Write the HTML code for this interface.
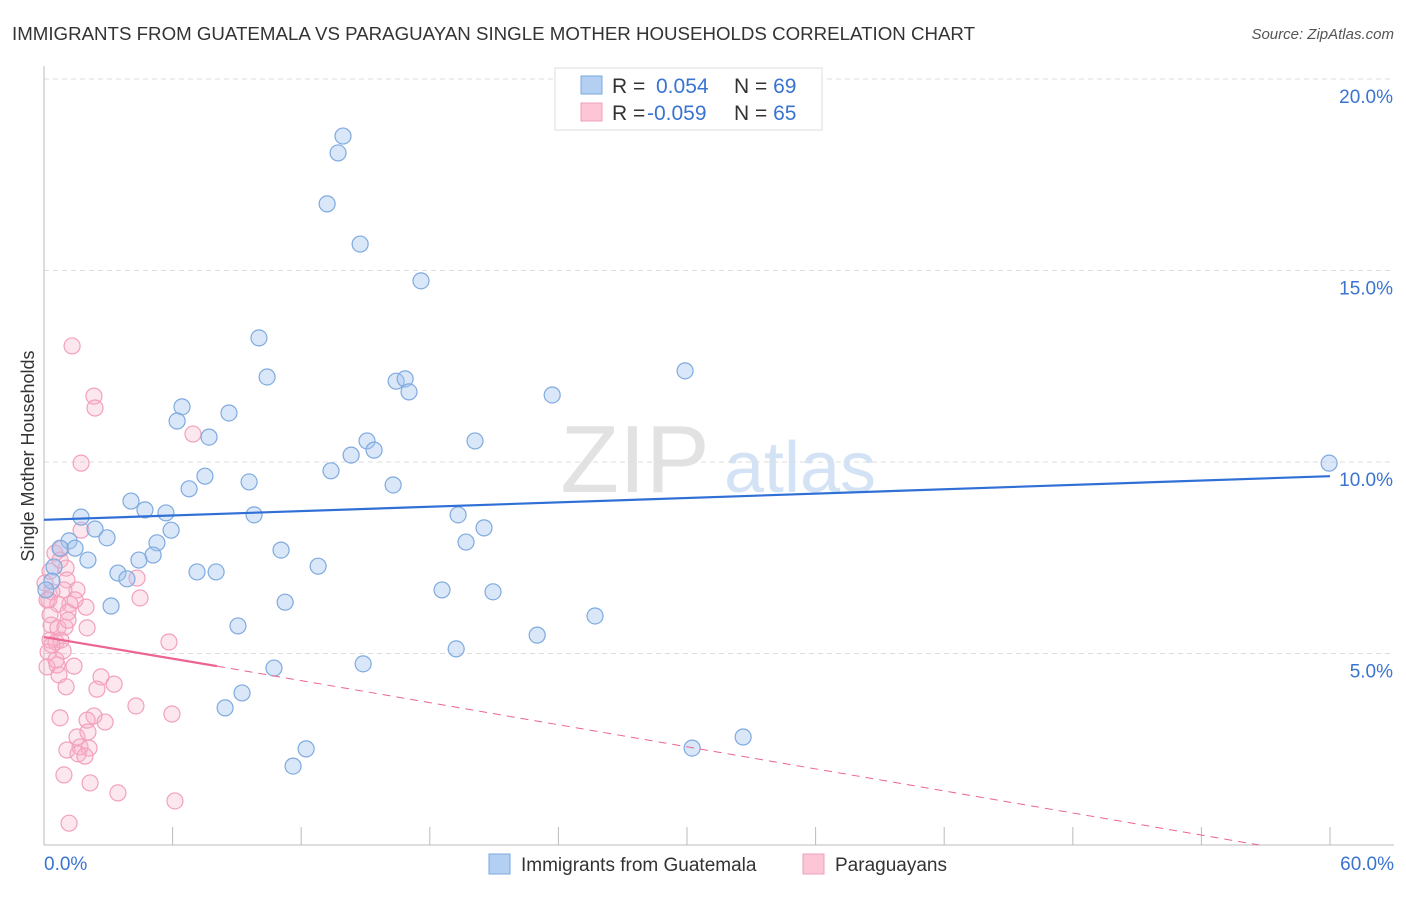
<!DOCTYPE html>
<html><head><meta charset="utf-8"><style>
body{margin:0;background:#fff;font-family:"Liberation Sans",sans-serif;}
svg text{font-family:"Liberation Sans",sans-serif;}
</style></head><body>
<svg id="chart" width="1406" height="892" viewBox="0 0 1406 892">
<text x="12" y="40" font-size="18" fill="#333" textLength="963" lengthAdjust="spacingAndGlyphs">IMMIGRANTS FROM GUATEMALA VS PARAGUAYAN SINGLE MOTHER HOUSEHOLDS CORRELATION CHART</text>
<text x="1394" y="39" font-size="15" fill="#555" font-style="italic" text-anchor="end">Source: ZipAtlas.com</text>
<text x="635" y="492" font-size="96" fill="#e2e2e2" font-family="Liberation Serif" text-anchor="middle">ZIP</text>
<text x="800" y="492" font-size="72" fill="#d3e3f5" text-anchor="middle">atlas</text>
<g id="grid"></g>
<g id="axes"></g>
<g id="marks"></g>
<text transform="translate(34,456) rotate(-90)" font-size="18" fill="#333" text-anchor="middle">Single Mother Households</text>
<g>
<rect x="555" y="68" width="267" height="62" fill="#fff" stroke="#ddd"/>
<rect x="581" y="76" width="21" height="18" fill="#b3cff2" stroke="#7aaae0"/>
<rect x="581" y="103" width="21" height="18" fill="#fcc6d6" stroke="#f0a0b8"/>
<text x="612" y="93" font-size="21" fill="#333">R = <tspan x="656" fill="#3a74d0">0.054</tspan><tspan x="734" fill="#333">N = </tspan><tspan fill="#3a74d0">69</tspan></text>
<text x="612" y="120" font-size="21" fill="#333">R = <tspan x="647" fill="#3a74d0">-0.059</tspan><tspan x="734" fill="#333">N = </tspan><tspan fill="#3a74d0">65</tspan></text>
</g>
<g>
<rect x="489" y="854" width="21" height="20" fill="#b3cff2" stroke="#7aaae0"/>
<text x="521" y="871" font-size="19" fill="#333">Immigrants from Guatemala</text>
<rect x="803" y="854" width="21" height="20" fill="#fcc6d6" stroke="#f0a0b8"/>
<text x="835" y="871" font-size="19" fill="#333">Paraguayans</text>
</g>
</svg>
<script>
const xTicks=[0,6,12,18,24,30,36,42,48,54,60];
const yTicks=[5,10,15,20];
const yTickLabels=["5.0%","10.0%","15.0%","20.0%"];
const xTickLabels=["0.0%","60.0%"];
const blueX=[13.95,13.72,13.21,14.75,17.59,10.03,10.41,16.43,16.85,17.03,23.71,29.91,6.44,8.63,6.21,7.70,15.07,20.11,15.40,14.33,13.39,7.51,9.57,6.77,16.29,59.96,4.06,4.71,5.69,9.80,19.32,1.73,2.38,5.93,20.53,2.94,1.17,5.27,19.69,0.75,1.45,5.09,4.43,2.05,11.06,12.79,0.47,3.45,7.14,8.03,3.87,0.37,18.57,20.95,3.13,11.25,25.71,9.05,23.01,19.23,14.89,10.73,9.24,8.45,12.23,30.24,32.62,11.62,0.09];
const blueY=[18.51,18.07,16.74,15.69,14.73,13.24,12.22,12.11,12.17,11.83,11.75,12.38,11.44,11.28,11.07,10.65,10.55,10.55,10.31,10.18,9.77,9.63,9.48,9.30,9.40,9.97,8.98,8.75,8.67,8.62,8.62,8.56,8.25,8.22,8.28,8.02,7.94,7.89,7.91,7.75,7.75,7.57,7.44,7.44,7.70,7.28,7.26,7.10,7.13,7.13,6.95,6.89,6.66,6.61,6.24,6.34,5.98,5.72,5.48,5.12,4.73,4.62,3.97,3.58,2.51,2.53,2.82,2.06,6.66];
const pinkX=[1.31,2.33,2.38,1.73,6.95,1.73,0.51,0.79,1.03,0.28,1.07,4.34,1.54,0.93,0.37,0.23,1.96,1.21,4.48,0.65,1.12,0.33,0.65,0.98,2.01,1.12,0.28,0.56,0.79,0.19,0.89,5.83,0.61,1.40,0.14,0.70,2.66,3.27,1.03,2.47,4.29,0.75,5.97,2.33,2.01,2.85,1.54,2.05,1.68,1.07,2.10,1.59,1.91,0.93,2.15,3.45,6.11,1.17,0.28,0.14,0.37,0.56,0.05,0.75,1.45];
const pinkY=[13.03,11.72,11.41,9.97,10.73,8.22,7.62,7.73,7.23,7.15,6.92,6.97,6.66,6.66,6.61,6.40,6.21,6.29,6.45,6.29,6.08,5.74,5.67,5.69,5.67,5.87,5.35,5.30,5.35,5.04,5.07,5.30,4.70,4.67,4.65,4.44,4.39,4.20,4.13,4.07,3.63,3.32,3.42,3.37,3.26,3.21,2.82,2.95,2.56,2.48,2.53,2.38,2.32,1.83,1.62,1.36,1.15,0.57,6.01,6.40,5.22,4.83,6.84,7.44,6.40];
const blueLine=[8.49,9.63];
const pinkLine=[5.43,4.67,8.07,56.7];
const NS="http://www.w3.org/2000/svg";
const sx=v=>44+v*(1330-44)/60;
const sy=v=>845-v*38.3;
function mk(tag,attrs,parent){const e=document.createElementNS(NS,tag);for(const k in attrs)e.setAttribute(k,attrs[k]);parent.appendChild(e);return e;}
const grid=document.getElementById('grid'),axes=document.getElementById('axes'),marks=document.getElementById('marks');
yTicks.forEach((t,i)=>{
 const l=mk('line',{x1:44,x2:1394,y1:sy(t),y2:sy(t),stroke:'#ddd','stroke-dasharray':'5,4'},grid);
 
 
 const tx=mk('text',{x:1393,y:sy(t)+24,'font-size':19,fill:'#3a74d0','text-anchor':'end'},axes);
 tx.textContent=yTickLabels[i];
 
 
});
const ax=mk('line',{x1:44,x2:1394,y1:845,y2:845,stroke:'#bbb'},axes);


const ay=mk('line',{x1:44,x2:44,y1:66,y2:845,stroke:'#bbb'},axes);


xTicks.forEach(t=>{
 const l=mk('line',{x1:sx(t),x2:sx(t),y1:827,y2:845,stroke:'#bbb'},axes);
 
 
});
const xl0=mk('text',{x:44,y:870,'font-size':19,fill:'#3a74d0'},axes);
xl0.textContent=xTickLabels[0];


const xl1=mk('text',{x:1394,y:870,'font-size':19,fill:'#3a74d0','text-anchor':'end'},axes);
xl1.textContent=xTickLabels[1];


pinkX.forEach((x,i)=>{
 const c=mk('circle',{cx:sx(x),cy:sy(pinkY[i]),r:8,fill:'rgba(248,175,200,0.3)',stroke:'#f2a0bc','stroke-width':1.2},marks);
 
 
});
blueX.forEach((x,i)=>{
 const c=mk('circle',{cx:sx(x),cy:sy(blueY[i]),r:8,fill:'rgba(165,198,238,0.42)',stroke:'#7faadf','stroke-width':1.2},marks);
 
 
});
const bl=mk('line',{x1:sx(0),y1:sy(blueLine[0]),x2:sx(60),y2:sy(blueLine[1]),stroke:'#2f6fd6','stroke-width':2.2},marks);


const pl=mk('line',{x1:sx(0),y1:sy(pinkLine[0]),x2:sx(pinkLine[2]),y2:sy(pinkLine[1]),stroke:'#ec6590','stroke-width':2.2},marks);


const pd=mk('line',{x1:sx(pinkLine[2]),y1:sy(pinkLine[1]),x2:sx(pinkLine[3]),y2:sy(0),stroke:'#ec6590','stroke-width':1,'stroke-dasharray':'8,6'},marks);


</script>
</body></html>
